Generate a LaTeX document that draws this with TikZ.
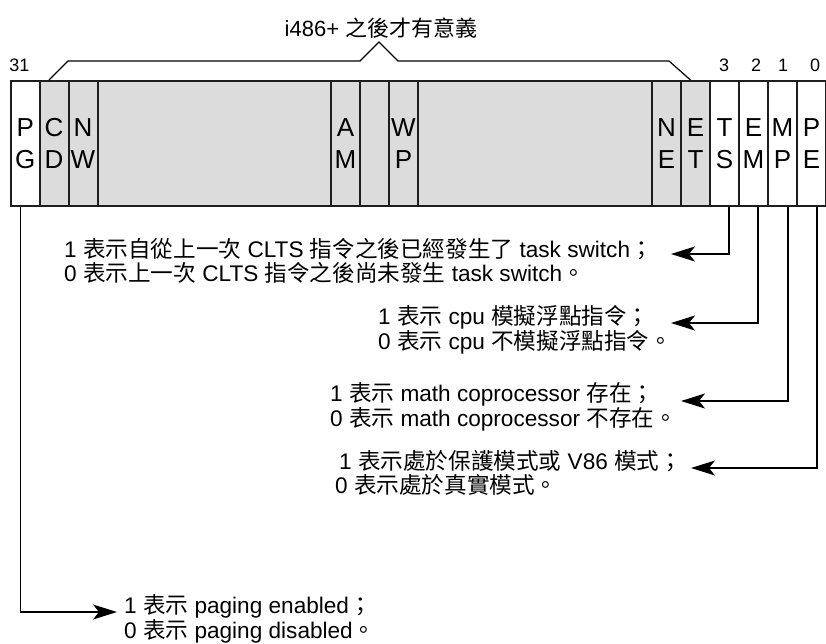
\documentclass[tikz,border=0pt]{standalone}
\usepackage{fontspec}
\setmainfont{Liberation Sans}
\newfontfamily\cjk{Noto Sans CJK TC}
\usetikzlibrary{arrows.meta}
\newcommand{\zh}[1]{{\cjk #1}}
\definecolor{regGray}{RGB}{220,220,220}
\definecolor{regLine}{RGB}{30,30,30}
\begin{document}
\begin{tikzpicture}[x=1pt,y=-1pt,
  reg/.style={draw=regLine, line width=2pt, minimum height=125pt, inner sep=0pt,
    anchor=west, align=center, font=\fontsize{26}{32}\selectfont},
  bitset/.style={reg, fill=white},
  bitres/.style={reg, fill=regGray},
  bitnum/.style={inner sep=0pt, font=\fontsize{18}{20}\selectfont},
  label/.style={inner sep=0pt, anchor=west, align=left, font=\fontsize{22.6}{23.5}\selectfont},
  conn/.style={line width=1.3pt, draw=black, -{Stealth[length=24pt,width=15pt,inset=6pt]}},
  brace/.style={line width=1.2pt, draw=black}
]
\useasboundingbox (0,0) rectangle (826,643);

% register cells
\node[bitset, minimum width=28.5pt] (PG) at (10,143.5) {P\\G};
\node[bitres, minimum width=29pt] (CD) at (38.5,143.5) {C\\D};
\node[bitres, minimum width=29pt] (NW) at (67.5,143.5) {N\\W};
\node[bitres, minimum width=233.5pt] (R1) at (96.5,143.5) {};
\node[bitres, minimum width=29pt] (AM) at (330,143.5) {A\\M};
\node[bitres, minimum width=29pt] (R2) at (359,143.5) {};
\node[bitres, minimum width=29pt] (WP) at (388,143.5) {W\\P};
\node[bitres, minimum width=234pt] (R3) at (417,143.5) {};
\node[bitres, minimum width=29pt] (NE) at (651,143.5) {N\\E};
\node[bitres, minimum width=29pt] (ET) at (680,143.5) {E\\T};
\node[bitset, minimum width=29pt] (TS) at (709,143.5) {T\\S};
\node[bitset, minimum width=29pt] (EM) at (738,143.5) {E\\M};
\node[bitset, minimum width=29pt] (MP) at (767,143.5) {M\\P};
\node[bitset, minimum width=29pt] (PE) at (796,143.5) {P\\E};

% bit numbers
\node[bitnum] (b31) at (19.5,65) {31};
\node[bitnum] (b3) at (724,65) {3};
\node[bitnum] (b2) at (756,65) {2};
\node[bitnum] (b1) at (783,65) {1};
\node[bitnum] (b0) at (815,65) {0};

% bracket and title
\draw[brace] ([xshift=-5pt]CD.north) -- (68,61) -- (360,61) -- (379,42) -- (398,61) -- (669,61) -- ([xshift=-5pt]ET.north);
\node[inner sep=0pt, font=\fontsize{22}{24}\selectfont] (title) at (381,28) {i486+ \zh{之後才有意義}};

% explanation texts
\node[label] (tsText) at (64,261) {1 \zh{表示自從上一次} CLTS \zh{指令之後已經發生了} task switch\zh{；}\\0 \zh{表示上一次} CLTS \zh{指令之後尚未發生} task switch\zh{。}};
\node[label] (emText) at (378,330) {1 \zh{表示} cpu \zh{模擬浮點指令；}\\0 \zh{表示} cpu \zh{不模擬浮點指令。}};
\node[label] (mpText) at (330,407) {1 \zh{表示} math coprocessor \zh{存在；}\\0 \zh{表示} math coprocessor \zh{不存在。}};
\node[label] (peText) at (335,473) {\hspace*{4pt}1 \zh{表示處於保護模式或} V86 \zh{模式；}\\0 \zh{表示處於真實模式。}};
\node[label] (pgText) at (124,619) {1 \zh{表示} paging enabled\zh{；}\\0 \zh{表示} paging disabled\zh{。}};

% arrow tips
\coordinate (tsTip) at (671,254);
\coordinate (emTip) at (671,323);
\coordinate (mpTip) at (681,401);
\coordinate (peTip) at (691,468);
\coordinate (pgTip) at (117,612);

% connectors
\draw[conn] ([xshift=4.5pt]TS.south) |- (tsTip);
\draw[conn] ([xshift=4.5pt]EM.south) |- (emTip);
\draw[conn] ([xshift=5.5pt]MP.south) |- (mpTip);
\draw[conn] ([xshift=5.5pt]PE.south) |- (peTip);
\draw[conn] ([xshift=-5pt]PG.south) |- (pgTip);
\end{tikzpicture}
\end{document}
